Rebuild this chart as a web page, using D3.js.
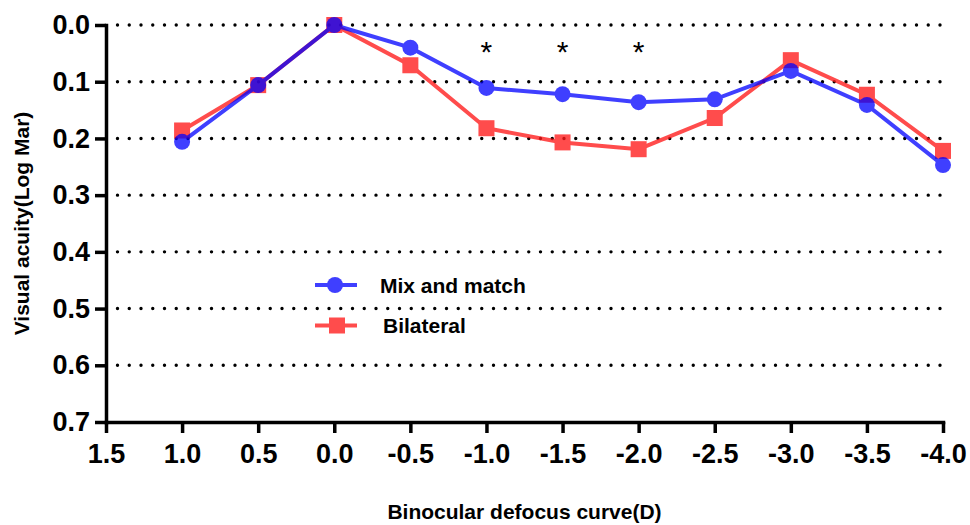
<!DOCTYPE html>
<html>
<head>
<meta charset="utf-8">
<script src="https://cdn.jsdelivr.net/npm/d3@7"></script>
<style>
  body { margin: 0; background: #fff; }
  svg { display: block; font-family: "Liberation Sans", Arial, sans-serif; }
</style>
</head>
<body>
<div id="chart"></div>
<script>
// defocus levels (D) and mean visual acuity (logMAR)
var defocus   = [1.0, 0.5, 0.0, -0.5, -1.0, -1.5, -2.0, -2.5, -3.0, -3.5, -4.0];
var mixMatch  = [0.206, 0.106, 0.0, 0.040, 0.111, 0.122, 0.136, 0.131, 0.081, 0.141, 0.247];
var bilateral = [0.186, 0.106, 0.0, 0.071, 0.182, 0.207, 0.219, 0.164, 0.062, 0.123, 0.222];

var xTicks = [1.5, 1.0, 0.5, 0.0, -0.5, -1.0, -1.5, -2.0, -2.5, -3.0, -3.5, -4.0];
var xTickLabels = ["1.5", "1.0", "0.5", "0.0", "-0.5", "-1.0", "-1.5", "-2.0", "-2.5", "-3.0", "-3.5", "-4.0"];
var yTicks = [0.0, 0.1, 0.2, 0.3, 0.4, 0.5, 0.6, 0.7];
var gridLevels = [0.0, 0.1, 0.2, 0.3, 0.4, 0.5, 0.6];
var starAt = [-1.0, -1.5, -2.0];

var width = 970, height = 525;
var blue = "#0000ff", red = "#ff1a1a";

var svg = d3.select("#chart").append("svg")
  .attr("width", width)
  .attr("height", height);

var x = d3.scaleLinear().domain([1.5, -4.0]).range([106, 943]);
var y = d3.scaleLinear().domain([0, 0.7]).range([25, 422]);

// dotted grid
svg.append("g").selectAll("line")
    .data(gridLevels)
  .enter().append("line")
    .attr("x1", 117.5)
    .attr("x2", 950)
    .attr("y1", function(d) { return y(d); })
    .attr("y2", function(d) { return y(d); })
    .style("stroke", "#000")
    .style("stroke-width", 3.4)
    .style("stroke-linecap", "round")
    .style("stroke-dasharray", "0,11.75");

var xAxis = d3.axisBottom(x)
  .tickValues(xTicks)
  .tickFormat(function(d, i) { return xTickLabels[i]; })
  .tickSize(11)
  .tickSizeOuter(0)
  .tickPadding(11);

var yAxis = d3.axisLeft(y)
  .tickValues(yTicks)
  .tickFormat(d3.format(".1f"))
  .tickSize(11)
  .tickSizeOuter(0)
  .tickPadding(5);

var gx = svg.append("g")
  .attr("transform", "translate(0," + y(0.7) + ")")
  .call(xAxis);

var gy = svg.append("g")
  .attr("transform", "translate(" + x(1.5) + ",0)")
  .call(yAxis);

[gx, gy].forEach(function(g) {
  g.select(".domain").style("stroke-width", 3.5).style("stroke-linecap", "square");
  g.selectAll(".tick line").style("stroke-width", 3.5);
  g.selectAll(".tick text")
    .style("font-size", "27px")
    .style("font-weight", "bold")
    .style("fill", "#000");
});

// axis titles
svg.append("text")
  .attr("x", (x(1.5) + x(-4.0)) / 2)
  .attr("y", 519)
  .attr("text-anchor", "middle")
  .style("font-size", "21px")
  .style("font-weight", "bold")
  .text("Binocular defocus curve(D)");

svg.append("text")
  .attr("transform", "translate(29," + (y(0.35)) + ") rotate(-90)")
  .attr("text-anchor", "middle")
  .style("font-size", "21px")
  .style("font-weight", "bold")
  .text("Visual acuity(Log Mar)");

// series
var line = d3.line()
  .x(function(d) { return x(d[0]); })
  .y(function(d) { return y(d[1]); });

var redPts = defocus.map(function(d, i) { return [d, bilateral[i]]; });
var bluePts = defocus.map(function(d, i) { return [d, mixMatch[i]]; });

var gRed = svg.append("g").style("opacity", 0.78);
gRed.append("path")
  .datum(redPts)
  .attr("d", line)
  .style("fill", "none")
  .style("stroke", red)
  .style("stroke-width", 4);
gRed.selectAll("rect")
    .data(redPts)
  .enter().append("rect")
    .attr("x", function(d) { return x(d[0]) - 8; })
    .attr("y", function(d) { return y(d[1]) - 8; })
    .attr("width", 16)
    .attr("height", 16)
    .style("fill", red);

var gBlue = svg.append("g").style("opacity", 0.75);
gBlue.append("path")
  .datum(bluePts)
  .attr("d", line)
  .style("fill", "none")
  .style("stroke", blue)
  .style("stroke-width", 4);
gBlue.selectAll("circle")
    .data(bluePts)
  .enter().append("circle")
    .attr("cx", function(d) { return x(d[0]); })
    .attr("cy", function(d) { return y(d[1]); })
    .attr("r", 8)
    .style("fill", blue);

// significance markers
svg.append("g").selectAll("text")
    .data(starAt)
  .enter().append("text")
    .attr("x", function(d) { return x(d); })
    .attr("y", 62)
    .attr("text-anchor", "middle")
    .style("font-size", "30px")
    .text("*");

// legend
var legend = [
  { name: "Mix and match", color: blue, shape: "circle", ly: 285, tx: 380, op: 0.75 },
  { name: "Bilateral", color: red, shape: "rect", ly: 325.5, tx: 383, op: 0.78 }
];
var lg = svg.append("g").selectAll("g")
    .data(legend)
  .enter().append("g")
    .style("opacity", function(d) { return d.op; });
lg.append("line")
  .attr("x1", 315).attr("x2", 357)
  .attr("y1", function(d) { return d.ly; })
  .attr("y2", function(d) { return d.ly; })
  .style("stroke", function(d) { return d.color; })
  .style("stroke-width", 4);
lg.filter(function(d) { return d.shape === "circle"; }).append("circle")
  .attr("cx", 335).attr("cy", function(d) { return d.ly; })
  .attr("r", 8)
  .style("fill", function(d) { return d.color; });
lg.filter(function(d) { return d.shape === "rect"; }).append("rect")
  .attr("x", 329).attr("y", function(d) { return d.ly - 8; })
  .attr("width", 16).attr("height", 16)
  .style("fill", function(d) { return d.color; });

svg.append("g").selectAll("text")
    .data(legend)
  .enter().append("text")
    .attr("x", function(d) { return d.tx; })
    .attr("y", function(d) { return d.ly + 7.5; })
    .style("font-size", "21px")
    .style("font-weight", "bold")
    .text(function(d) { return d.name; });
</script>
</body>
</html>
